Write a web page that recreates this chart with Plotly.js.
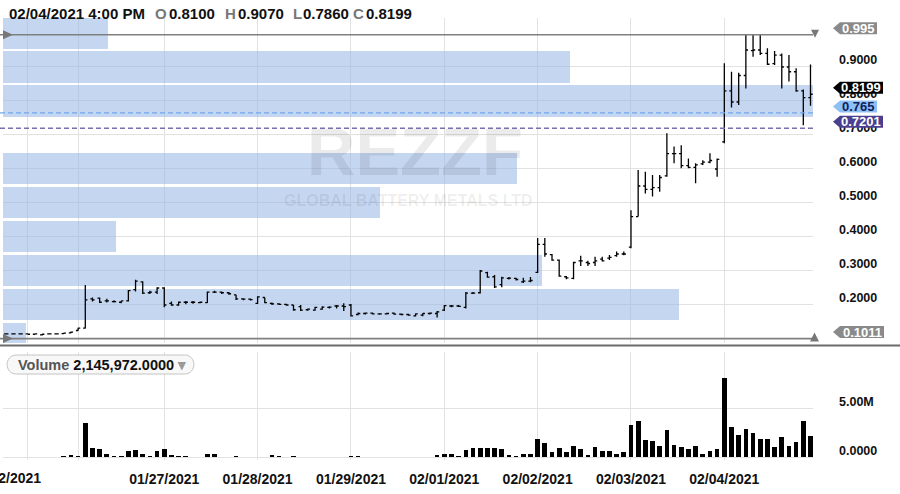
<!DOCTYPE html>
<html><head><meta charset="utf-8">
<script src="https://cdn.plot.ly/plotly-3.0.1.min.js"></script>
<style>html,body{margin:0;padding:0;background:#fff;} #chart{width:900px;height:494px;}</style>
</head><body><div id="chart"></div>
<script>
// ---------- DATA ----------
const symbol = 'REZZF';
const companyName = 'GLOBAL BATTERY METALS LTD';
const lastBarTime = '02/04/2021 4:00 PM';

// 30-minute bars, oldest first
const openP = [0.115,0.115,0.115,0.115,0.115,0.114,0.112,0.115,0.115,0.116,0.118,0.125,0.132,0.218,0.220,0.212,0.210,0.208,0.212,0.245,
0.268,0.236,0.238,0.250,0.205,0.200,0.208,0.208,0.207,0.207,0.238,0.238,0.236,0.230,0.218,0.217,0.205,0.222,0.205,0.203,
0.202,0.200,0.195,0.186,0.185,0.188,0.193,0.197,0.197,0.200,0.172,0.175,0.176,0.174,0.174,0.176,0.173,0.172,0.168,0.170,
0.175,0.175,0.185,0.197,0.197,0.193,0.235,0.236,0.295,0.283,0.260,0.278,0.278,0.268,0.270,0.296,0.378,0.348,0.332,0.283,
0.278,0.330,0.325,0.325,0.335,0.338,0.345,0.350,0.370,0.460,0.550,0.540,0.545,0.580,0.645,0.645,0.610,0.605,0.615,0.620,
0.600,0.680,0.830,0.797,0.875,0.948,0.950,0.940,0.910,0.935,0.900,0.886,0.830,0.8100];
const highP = [0.116,0.116,0.116,0.116,0.116,0.115,0.115,0.116,0.116,0.118,0.122,0.133,0.259,0.222,0.222,0.218,0.214,0.212,0.244,0.274,
0.270,0.242,0.252,0.252,0.210,0.210,0.212,0.212,0.210,0.240,0.242,0.240,0.238,0.230,0.220,0.219,0.226,0.222,0.207,0.205,
0.204,0.200,0.200,0.190,0.195,0.196,0.196,0.200,0.205,0.203,0.178,0.178,0.178,0.176,0.177,0.178,0.175,0.174,0.175,0.176,
0.178,0.182,0.200,0.200,0.200,0.238,0.238,0.303,0.298,0.288,0.283,0.282,0.280,0.280,0.282,0.397,0.397,0.350,0.334,0.285,
0.327,0.345,0.330,0.342,0.342,0.347,0.357,0.357,0.479,0.597,0.592,0.582,0.582,0.705,0.666,0.670,0.631,0.617,0.626,0.646,
0.631,0.911,0.886,0.883,0.994,0.995,0.995,0.955,0.947,0.940,0.935,0.896,0.834,0.9070];
const lowP = [0.114,0.114,0.115,0.114,0.114,0.113,0.110,0.114,0.114,0.115,0.117,0.124,0.131,0.210,0.206,0.207,0.207,0.205,0.210,0.240,
0.232,0.232,0.232,0.193,0.198,0.198,0.202,0.204,0.205,0.206,0.235,0.232,0.230,0.215,0.214,0.213,0.203,0.205,0.200,0.200,
0.198,0.183,0.182,0.183,0.183,0.186,0.190,0.190,0.182,0.166,0.170,0.172,0.172,0.171,0.172,0.171,0.170,0.168,0.166,0.167,
0.172,0.163,0.182,0.193,0.194,0.190,0.232,0.234,0.280,0.250,0.252,0.275,0.272,0.265,0.267,0.294,0.342,0.330,0.283,0.276,
0.276,0.315,0.315,0.315,0.328,0.332,0.342,0.346,0.367,0.460,0.528,0.519,0.533,0.577,0.617,0.602,0.602,0.558,0.612,0.617,
0.577,0.676,0.781,0.788,0.837,0.930,0.935,0.906,0.906,0.837,0.857,0.827,0.729,0.7860];
const closeP = [0.115,0.115,0.115,0.115,0.114,0.115,0.114,0.115,0.115,0.117,0.120,0.132,0.215,0.215,0.208,0.212,0.210,0.212,0.242,0.270,
0.235,0.238,0.250,0.200,0.200,0.208,0.208,0.208,0.208,0.238,0.238,0.236,0.233,0.218,0.217,0.216,0.224,0.207,0.203,0.202,
0.200,0.186,0.185,0.188,0.193,0.194,0.194,0.197,0.195,0.168,0.175,0.176,0.174,0.174,0.175,0.173,0.172,0.170,0.174,0.175,
0.176,0.180,0.198,0.197,0.196,0.235,0.235,0.300,0.282,0.253,0.280,0.279,0.275,0.270,0.272,0.378,0.350,0.332,0.285,0.280,
0.325,0.330,0.322,0.330,0.330,0.340,0.350,0.350,0.460,0.550,0.540,0.545,0.575,0.645,0.645,0.610,0.605,0.612,0.620,0.625,
0.628,0.830,0.797,0.875,0.950,0.950,0.940,0.908,0.935,0.900,0.886,0.830,0.810,0.8199];
const volume = [20000,30000,20000,50000,30000,20000,80000,30000,50000,100000,250000,150000,3540000,1000000,800000,350000,120000,120000,600000,750000,
350000,120000,600000,880000,200000,120000,100000,50000,50000,370000,300000,80000,50000,150000,80000,80000,80000,80000,250000,100000,
50000,100000,50000,50000,30000,30000,50000,50000,80000,100000,100000,80000,50000,50000,40000,30000,50000,40000,50000,30000,
40000,200000,300000,350000,140000,750000,920000,920000,920000,920000,850000,200000,120000,370000,300000,1840000,1500000,580000,990000,510000,
1120000,850000,240000,1050000,650000,650000,300000,540000,3330000,3700000,1770000,1630000,1160000,2790000,1260000,1050000,850000,1120000,370000,650000,
850000,8060000,3130000,2310000,2860000,2450000,1840000,1870000,1020000,2070000,1190000,1570000,3710000,2145972];

// trading days shown (bar index where each session starts) and x labels
const dayStartIdx = [4, 11, 23, 36, 49, 62, 75, 88, 101];
const dayTickText = ['', '', '01/27/2021', '01/28/2021', '01/29/2021', '02/01/2021', '02/02/2021', '02/03/2021', '02/04/2021'];
const firstDayLabel = '01/22/2021';
const firstDayLabelIdx = 1;

// volume-by-price profile (price bucket centres, volume in millions)
const profilePrice = [0.1, 0.2, 0.3, 0.4, 0.5, 0.6, 0.7, 0.8, 0.9, 1.0];
const profileVolM  = [0.57, 16.7, 13.3, 2.8, 9.3, 12.7, 0, 20.0, 14.0, 2.6];

// reference levels
const periodHigh = 0.995;
const periodLow = 0.1011;
const levelBlue = 0.765;
const levelPurple = 0.7201;
const priceTicks = [0.1, 0.2, 0.3, 0.4, 0.5, 0.6, 0.7, 0.8, 0.9];
const volTicks = [0, 5000000];
const volTickText = ['0.0000', '5.00M'];

// ---------- GEOMETRY ----------
const W = 900, H = 494, ML = 3, MR = 87, MT = 18, MB = 34;
const PW = W - ML - MR, PH = H - MT - MB;
const pxX = px => (px - ML) / PW;
const pxY = py => (H - MB - py) / PH;
const FONT = 'Liberation Sans, Arial, sans-serif';
const GRID = '#e2e2e2';
const N = closeP.length;
const idx = Array.from({length: N}, (_, i) => i);
const XR = [0.54, 113.35];

const traces = [
  {type: 'bar', orientation: 'h', x: profileVolM, y: profilePrice, width: 0.0912,
   xaxis: 'x', yaxis: 'y', marker: {color: 'rgba(150,180,230,0.55)', line: {width: 0}}, hoverinfo: 'skip'},
  {type: 'ohlc', x: idx, open: openP, high: highP, low: lowP, close: closeP,
   xaxis: 'x2', yaxis: 'y', tickwidth: 0.3,
   increasing: {line: {color: '#000', width: 1.3}}, decreasing: {line: {color: '#000', width: 1.3}}},
  {type: 'bar', x: idx, y: volume, width: 0.65, xaxis: 'x3', yaxis: 'y2',
   marker: {color: '#000', line: {width: 0}}}
];

const last = N - 1;
const fmtInt = v => Math.round(v).toString().replace(/\B(?=(\d{3})+(?!\d))/g, ',');

const shapes = [];
const annotations = [];

// separator between panes
shapes.push({type: 'line', xref: 'paper', yref: 'paper', x0: pxX(0), x1: pxX(900), y0: pxY(345.5), y1: pxY(345.5),
  line: {color: '#6b6b6b', width: 2}});
// high/low lines
[periodHigh, periodLow].forEach(v => shapes.push({type: 'line', xref: 'paper', yref: 'y', x0: pxX(0), x1: 1, y0: v, y1: v,
  line: {color: '#808080', width: 1.6}}));
shapes.push({type: 'line', xref: 'paper', yref: 'y', x0: pxX(0), x1: 1, y0: levelBlue, y1: levelBlue,
  line: {color: '#6fa8f0', width: 1.3, dash: '5px,3px'}});
shapes.push({type: 'line', xref: 'paper', yref: 'y', x0: pxX(0), x1: 1, y0: levelPurple, y1: levelPurple,
  line: {color: '#7a6db0', width: 1.5, dash: '5px,3px'}});
// end markers
function pixShape(xa, ya, path, color) {
  shapes.push({type: 'path', xref: 'paper', yref: 'y', xsizemode: 'pixel', ysizemode: 'pixel',
    xanchor: xa, yanchor: ya, path: path, fillcolor: color, line: {width: 0}});
}
pixShape(0, periodHigh, 'M 0,4.5 L 10,0 L 0,-4.5 Z', '#777');
pixShape(0, periodLow, 'M 0,4.5 L 10,0 L 0,-4.5 Z', '#777');
pixShape(1, periodHigh, 'M -2,5 L 6,5 L 2,-3 Z', '#777');
pixShape(1, periodLow, 'M -3,-3 L 6,-3 L 1.5,6 Z', '#777');

// price tags
function tag(v, text, bg, fg, right) {
  const b = 0.5, t = 12.5;
  pixShape(1, v, `M 20,${(b + t) / 2} L 27,${t} L ${right},${t} L ${right},${b} L 27,${b} Z`, bg);
  annotations.push({xref: 'paper', yref: 'y', x: pxX(813 + (27 + right) / 2), y: v, yshift: 6.5,
    text: text, showarrow: false, xanchor: 'center', yanchor: 'middle',
    font: {family: FONT, size: 13, weight: 'bold', color: fg}});
}
tag(periodHigh, String(periodHigh), '#8a8a8a', '#fff', 64);
tag(closeP[last], closeP[last].toFixed(4), '#000', '#fff', 70);
tag(levelBlue, String(levelBlue), '#8ec0f6', '#10205a', 64);
tag(levelPurple, levelPurple.toFixed(4), '#4b3f8f', '#fff', 70);
tag(periodLow, periodLow.toFixed(4), '#8a8a8a', '#fff', 71);

// watermark
annotations.push({xref: 'paper', yref: 'paper', x: pxX(415), y: pxY(151), text: symbol, showarrow: false,
  xanchor: 'center', yanchor: 'middle', font: {family: FONT, size: 67, weight: 'bold', color: 'rgba(0,0,0,0.08)'}});
annotations.push({xref: 'paper', yref: 'paper', x: pxX(408), y: pxY(200), text: companyName, showarrow: false,
  xanchor: 'center', yanchor: 'middle', font: {family: FONT, size: 16, weight: 'bold', color: 'rgba(0,0,0,0.08)'}});

// header
const hdr = [
  [lastBarTime, 6.5, '#111'], ['O', 152.5, '#777'], [openP[last].toFixed(4), 166.5, '#111'],
  ['H', 222.5, '#777'], [highP[last].toFixed(4), 236, '#111'],
  ['L', 291, '#777'], [lowP[last].toFixed(4), 301, '#111'],
  ['C', 351, '#777'], [closeP[last].toFixed(4), 364, '#111']
];
hdr.forEach(([t, px, c]) => annotations.push({xref: 'paper', yref: 'paper', x: pxX(px), y: pxY(13), text: t,
  showarrow: false, xanchor: 'left', yanchor: 'middle', font: {family: FONT, size: 15, weight: 'bold', color: c}}));

// volume pill
shapes.push({type: 'path', xref: 'paper', yref: 'paper', xsizemode: 'pixel', ysizemode: 'pixel',
  xanchor: pxX(7), yanchor: pxY(374),
  path: 'M 9.5,0 L 177.5,0 C 190,0 190,19 177.5,19 L 9.5,19 C -3,19 -3,0 9.5,0 Z',
  fillcolor: '#f8f8f8', line: {color: '#c4c4c4', width: 1}});
annotations.push({xref: 'paper', yref: 'paper', x: pxX(16), y: pxY(364.5),
  text: `<span style="color:#555">Volume</span> ${fmtInt(volume[last])}.0000 <span style="color:#999">▾</span>`,
  showarrow: false, xanchor: 'left', yanchor: 'middle', font: {family: FONT, size: 14.5, weight: 'bold', color: '#111'}});

// first (partial) day label
annotations.push({xref: 'x3', yref: 'paper', x: firstDayLabelIdx, y: pxY(478), text: firstDayLabel, showarrow: false,
  xanchor: 'center', yanchor: 'middle', font: {family: FONT, size: 14, weight: 'bold', color: '#111'}});

const layout = {
  width: W, height: H, margin: {l: ML, r: MR, t: MT, b: MB},
  paper_bgcolor: '#fff', plot_bgcolor: '#fff', showlegend: false, bargap: 0,
  xaxis: {domain: [0, 1], anchor: 'y', range: [0, 20], visible: false, fixedrange: true},
  xaxis2: {overlaying: 'x', anchor: 'y', range: XR, tickmode: 'array', tickvals: dayStartIdx, showticklabels: false,
    ticks: '', showgrid: true, gridcolor: GRID, zeroline: false, showline: false, rangeslider: {visible: false}},
  xaxis3: {domain: [0, 1], anchor: 'y2', range: XR, tickmode: 'array', tickvals: dayStartIdx, ticktext: dayTickText,
    ticks: '', showgrid: true, gridcolor: GRID, zeroline: false, showline: false, rangeslider: {visible: false},
    ticklabelstandoff: 9, tickfont: {family: FONT, size: 14, weight: 'bold', color: '#111'}},
  yaxis: {domain: [pxY(343), 1], anchor: 'x', side: 'right', range: [0.0882, 1.0441], tickmode: 'array',
    tickvals: priceTicks, tickformat: '.4f', ticks: '', showgrid: true, gridcolor: GRID, zeroline: false,
    showline: false, ticklabelshift: -7, ticklabelstandoff: 25,
    tickfont: {family: FONT, size: 12.5, weight: 'bold', color: '#111'}},
  yaxis2: {domain: [0, pxY(352)], anchor: 'x3', side: 'right', range: [-275500, 10745000], tickmode: 'array',
    tickvals: volTicks, ticktext: volTickText, ticks: '', showgrid: true, gridcolor: GRID, zeroline: false,
    showline: false, ticklabelshift: -7, ticklabelstandoff: 25,
    tickfont: {family: FONT, size: 12.5, weight: 'bold', color: '#111'}},
  shapes: shapes, annotations: annotations
};

Plotly.newPlot('chart', traces, layout, {displayModeBar: false, staticPlot: true});
</script></body></html>
